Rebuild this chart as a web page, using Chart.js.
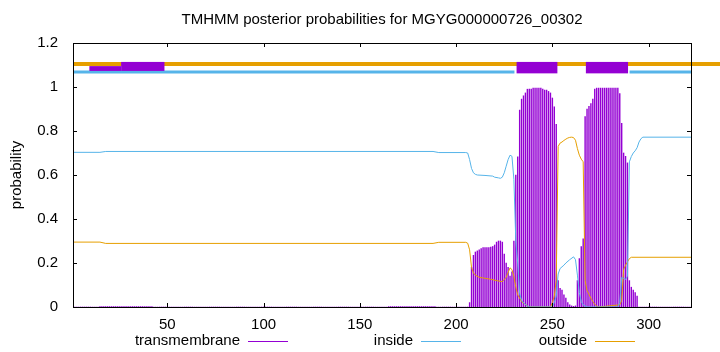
<!DOCTYPE html>
<html>
<head>
<meta charset="utf-8">
<script src="https://cdn.jsdelivr.net/npm/chart.js@4.4.1/dist/chart.umd.min.js"></script>
<style>
  html, body { margin: 0; padding: 0; background: #fff; }
  canvas { display: block; }
</style>
</head>
<body>
<canvas id="chart" width="720" height="352"></canvas>
<script>
const chartTitle = 'TMHMM posterior probabilities for MGYG000000726_00302';
const yAxisTitle = 'probability';
const legendLabels = ['transmembrane', 'inside', 'outside'];
const xTickValues = [50, 100, 150, 200, 250, 300];
const seqLength = 322;

// transmembrane posterior, one value per residue 1..322
const tmProb = [
  0, 0, 0, 0, 0, 0, 0, 0, 0, 0,
  0, 0, 0, 0, .002, .002, .002, .002, .002, .002,
  .002, .002, .002, .002, .002, .002, .002, .002, .002, .002,
  .002, .002, .002, .002, .002, .002, .002, .002, .002, .002,
  .002, .002, 0, 0, 0, 0, 0, 0, 0, 0,
  0, 0, 0, 0, 0, 0, 0, 0, 0, 0,
  0, 0, 0, 0, 0, 0, 0, 0, 0, 0,
  0, 0, 0, 0, 0, 0, 0, 0, 0, 0,
  0, 0, 0, 0, 0, 0, 0, 0, 0, 0,
  0, 0, 0, 0, 0, 0, 0, 0, 0, 0,
  0, 0, 0, 0, 0, 0, 0, 0, 0, 0,
  0, 0, 0, 0, 0, 0, 0, 0, 0, 0,
  0, 0, 0, 0, 0, 0, 0, 0, 0, 0,
  0, 0, 0, 0, 0, 0, 0, 0, 0, 0,
  0, 0, 0, 0, 0, 0, 0, 0, 0, 0,
  0, 0, 0, 0, 0, 0, 0, 0, 0, 0,
  0, 0, 0, 0, .002, .002, .002, .002, .002, .002,
  .002, .002, .002, .002, .002, .002, .002, .002, .002, .002,
  .002, .002, .002, .002, .002, .002, .002, .002, .002, 0,
  0, 0, 0, 0, 0, 0, 0, 0, 0, 0,
  0, 0, 0, 0, 0, 0, .02, .18, .235, .25,
  .255, .26, .265, .27, .27, .27, .27, .272, .275, .282,
  .295, .3, .3, .295, .24, .2, .18, .14, .16, .3,
  .6, .683, .895, .945, .96, .973, .99, .99, .99, .995,
  .995, .995, .995, .995, .99, .986, .986, .98, .973, .95,
  .91, .83, .12, .085, .077, .055, .04, .02, .01, .005,
  .003, .005, .12, .22, .275, .31, .865, .9, .912, .925,
  .945, .99, .995, .995, .995, .995, .995, .995, .995, .995,
  .995, .995, .995, .995, .97, .835, .7, .685, .655, .12,
  .09, .077, .065, .05, 0, 0, 0, 0, 0, 0,
  0, 0, 0, 0, 0, 0, 0, 0, 0, 0,
  0, 0, 0, 0, 0, 0, 0, 0, 0, 0,
  0, 0
];

// inside posterior (residue, value)
const insideX = [1, 15, 18, 188, 191, 205, 206, 207, 208, 209, 210, 211, 215, 219, 220, 222, 223, 224, 225, 226, 227, 228, 229,
  230, 231, 232, 233, 234, 235, 236, 237, 238, 250, 251, 252, 253, 254, 256, 257, 259, 261, 262, 263, 264, 265, 266, 267, 268,
  284, 285, 286, 287, 288, 289, 290, 291, 292, 293, 294, 295, 296, 297, 322];
const insideY = [.703, .703, .707, .707, .702, .702, .70, .67, .63, .61, .603, .6, .598, .595, .59, .587, .585, .59, .61, .64, .67, .69, .685,
  .58, .3, .2, .06, .03, .02, .012, .005, 0, 0, .02, .05, .15, .175, .19, .2, .215, .228, .215, .145, .065, .025, .01, .005, 0,
  0, .02, .135, .13, .125, .14, .66, .684, .7, .71, .724, .75, .765, .772, .772];

// outside posterior (residue, value)
const outsideX = [1, 15, 18, 188, 191, 205, 206, 207, 208, 209, 210, 212, 218, 221, 224, 226, 228, 229, 230, 231, 232, 234, 237, 238,
  249, 250, 251, 252, 253, 254, 255, 256, 257, 258, 259, 260, 261, 262, 263, 264, 265, 266, 267, 268, 269, 270, 271, 272, 273, 274,
  285, 286, 287, 288, 289, 290, 291, 322];
const outsideY = [.295, .295, .289, .289, .294, .294, .29, .26, .18, .155, .145, .135, .126, .12, .115, .135, .178, .17, .14, .09, .055, .025, .005, 0,
  0, .02, .05, .12, .73, .745, .75, .757, .763, .768, .771, .772, .77, .758, .72, .69, .672, .66, .12, .075, .058, .04, .025, .012, .005, 0,
  .01, .03, .17, .19, .205, .22, .226, .226];

// predicted topology strip above the curves
const topOutsideX = [1, 337.4];
const topOutsideY = [1.1045, 1.1045];
const topInsideX = [1, 230.3, 230.3, 290.1, 322];
const topInsideY = [1.068, 1.068, null, 1.068, 1.068];
const tmBoxFrom = [9.5, 26, 231.4, 267.4];
const tmBoxTo = [26, 48.5, 252.6, 289.3];
const tmBoxLow = [1.073, 1.073, 1.062, 1.062];
const tmBoxHigh = [1.095, 1.114, 1.114, 1.114];

const PURPLE = '#9400d3';
const BLUE = '#56b4e9';
const ORANGE = '#e69f00';
const FONT = '"Liberation Sans", Arial, Helvetica, sans-serif';
const FONT_SIZE = 15;

const pts = (xs, ys) => xs.map((x, i) => ({ x, y: ys[i] }));

const gnuplotFrame = {
  id: 'gnuplotFrame',
  afterDatasetsDraw(chart) {
    const { ctx, scales: { x, y } } = chart;
    ctx.save();
    ctx.fillStyle = PURPLE;
    tmBoxFrom.forEach((from, i) => {
      const x0 = x.getPixelForValue(from);
      const x1 = x.getPixelForValue(tmBoxTo[i]);
      const y0 = y.getPixelForValue(tmBoxHigh[i]);
      const y1 = y.getPixelForValue(tmBoxLow[i]);
      ctx.fillRect(x0, y0, x1 - x0, y1 - y0);
    });
    ctx.restore();
  },
  afterDraw(chart) {
    const { ctx, chartArea: a, scales: { x, y } } = chart;
    ctx.save();
    // border
    ctx.strokeStyle = '#000';
    ctx.lineWidth = 1;
    ctx.strokeRect(Math.round(a.left) + 0.5, Math.round(a.top) + 0.5,
      Math.round(a.right - a.left), Math.round(a.bottom - a.top));
    // inward ticks, mirrored
    const tl = 4;
    ctx.beginPath();
    y.ticks.forEach(t => {
      const py = Math.round(y.getPixelForValue(t.value)) + 0.5;
      ctx.moveTo(a.left, py); ctx.lineTo(a.left + tl, py);
      ctx.moveTo(a.right, py); ctx.lineTo(a.right - tl, py);
    });
    x.ticks.forEach(t => {
      const px = Math.round(x.getPixelForValue(t.value)) + 0.5;
      ctx.moveTo(px, a.bottom); ctx.lineTo(px, a.bottom - tl);
      ctx.moveTo(px, a.top); ctx.lineTo(px, a.top + tl);
    });
    ctx.stroke();
    // title
    ctx.fillStyle = '#000';
    ctx.font = FONT_SIZE + 'px ' + FONT;
    ctx.textAlign = 'center';
    ctx.textBaseline = 'middle';
    ctx.fillText(chartTitle, (a.left + a.right) / 2, 20);
    // legend: text then line sample, gnuplot style
    const colors = [PURPLE, BLUE, ORANGE];
    const textRight = [240, 413, 587];
    const ly = 341;
    legendLabels.forEach((label, i) => {
      ctx.textAlign = 'right';
      ctx.fillStyle = '#000';
      ctx.fillText(label, textRight[i], ly);
      ctx.strokeStyle = colors[i];
      ctx.beginPath();
      ctx.moveTo(textRight[i] + 8, ly + 0.5);
      ctx.lineTo(textRight[i] + 48, ly + 0.5);
      ctx.stroke();
    });
    ctx.restore();
  }
};

new Chart(document.getElementById('chart'), {
  type: 'line',
  data: {
    datasets: [
      { type: 'line', data: pts(topOutsideX, topOutsideY), borderColor: ORANGE, borderWidth: 4, pointRadius: 0, clip: false, order: 0 },
      { type: 'line', data: pts(topInsideX, topInsideY), borderColor: BLUE, borderWidth: 3, pointRadius: 0, spanGaps: false, order: 1 },
      { type: 'line', data: pts(insideX, insideY), borderColor: BLUE, borderWidth: 1, pointRadius: 0, order: 2 },
      { type: 'line', data: pts(outsideX, outsideY), borderColor: ORANGE, borderWidth: 1, pointRadius: 0, order: 2 },
      { type: 'bar', data: tmProb.map((v, i) => ({ x: i + 1, y: v })), backgroundColor: PURPLE, borderWidth: 0, barThickness: 0.75, order: 3 }
    ]
  },
  options: {
    responsive: false,
    animation: false,
    layout: { padding: { top: 43, right: 29, left: 0, bottom: 0 } },
    plugins: { legend: { display: false }, tooltip: { enabled: false } },
    scales: {
      x: {
        type: 'linear', min: 1, max: seqLength, offset: false,
        grid: { display: false }, border: { display: false },
        afterBuildTicks: s => { s.ticks = xTickValues.map(v => ({ value: v })); },
        afterFit: s => { s.height = 45; },
        ticks: { padding: 1, color: '#000', font: { family: FONT, size: FONT_SIZE } }
      },
      y: {
        min: 0, max: 1.2,
        grid: { display: false }, border: { display: false },
        afterFit: s => { s.width = 73; },
        ticks: {
          stepSize: 0.2, padding: 7, color: '#000', font: { family: FONT, size: FONT_SIZE },
          callback: v => String(Number(v.toFixed(1)))
        },
        title: { display: true, text: yAxisTitle, color: '#000', padding: { top: 8 }, font: { family: FONT, size: FONT_SIZE } }
      }
    }
  },
  plugins: [gnuplotFrame]
});
</script>
</body>
</html>
